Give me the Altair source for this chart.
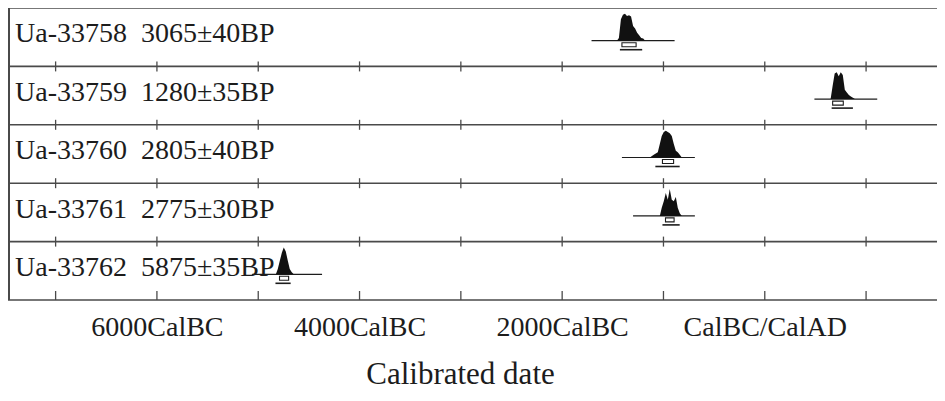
import altair as alt
import pandas as pd

# ---- data ----
labels = ["Ua-33758 \u00a03065±40BP", "Ua-33759 \u00a01280±35BP", "Ua-33760 \u00a02805±40BP",
          "Ua-33761 \u00a02775±30BP", "Ua-33762 \u00a05875±35BP"]

d1_years = [-1460, -1440, -1420, -1400, -1380, -1360, -1340, -1320, -1300, -1280, -1260, -1240, -1220, -1200, -1180]
d1_dens = [0, 0.1, 0.8, 0.97, 1.0, 0.92, 0.95, 0.9, 0.55, 0.45, 0.3, 0.2, 0.1, 0.08, 0]
d2_years = [650, 670, 690, 710, 730, 750, 770, 790, 810, 830, 850, 870, 890]
d2_dens = [0, 0.5, 0.95, 1.0, 0.85, 1.0, 0.9, 0.35, 0.25, 0.15, 0.1, 0.05, 0]
d3_years = [-1135, -1096, -1056, -1036, -1017, -997, -977, -957, -938, -918, -898, -878, -859, -839, -819]
d3_dens = [0, 0.1, 0.2, 0.5, 0.8, 0.95, 1.0, 0.95, 0.9, 0.8, 0.5, 0.25, 0.2, 0.1, 0]
d4_years = [-1036, -1017, -997, -977, -957, -938, -918, -898, -878, -859, -839, -819]
d4_dens = [0, 0.3, 0.55, 0.85, 0.6, 1.0, 0.6, 0.55, 0.7, 0.3, 0.1, 0]
d5_years = [-4826, -4807, -4787, -4767, -4748, -4728, -4708, -4689, -4669, -4649]
d5_dens = [0, 0.2, 0.5, 0.8, 1.0, 0.85, 0.5, 0.2, 0.08, 0]

line_from = [-1710, 490, -1410, -1300, -5060]
line_to = [-890, 1110, -690, -690, -4370]
r68_from = [-1410, 670, -1010, -980, -4790]
r68_to = [-1270, 775, -900, -895, -4700]
r95_from = [-1430, 660, -1080, -1010, -4830]
r95_to = [-1210, 870, -840, -840, -4680]

tick_years = [-7000, -6000, -5000, -4000, -3000, -2000, -1000, 0, 1000]
label_years = [-6000, -4000, -2000, 0]
axis_title = "Calibrated date"

# ---- layout ----
W, H = 929, 292
NROWS = 5
ROW_PX = H / NROWS
BASE = 0.56
HMAX = 0.46
px = 1.0 / ROW_PX
XDOM = [-7470, 1700]
FONT = "Liberation Serif, Times New Roman, serif"
INK = "#1c1c1c"
LINE = "#4a4a4a"

xs = alt.Scale(domain=XDOM, nice=False, zero=False)
ys = alt.Scale(domain=[0, NROWS], reverse=True, nice=False, zero=False)

dens = []
for i, (yy, dd) in enumerate([(d1_years, d1_dens), (d2_years, d2_dens), (d3_years, d3_dens),
                               (d4_years, d4_dens), (d5_years, d5_dens)]):
    for y_, d_ in zip(yy, dd):
        dens.append({"row": i, "year": y_, "top": i + BASE - d_ * HMAX, "base": i + BASE})
dens = pd.DataFrame(dens)

rows = pd.DataFrame({
    "row": list(range(NROWS)), "label": labels,
    "lf": line_from, "lt": line_to,
    "a": r68_from, "b": r68_to, "c": r95_from, "d": r95_to,
})
rows["base"] = rows["row"] + BASE
rows["lab_y"] = rows["row"] + 0.59
rows["b68_top"] = rows["base"] + 2 * px
rows["b68_bot"] = rows["base"] + 6 * px
rows["r95_y"] = rows["base"] + 9 * px

levels = pd.DataFrame({"lvl": list(range(NROWS + 1))})

ticks = []
for lvl in range(1, NROWS):
    for t in tick_years:
        ticks.append({"year": t, "y1": lvl - 5 * px, "y2": lvl + 5 * px})
for t in tick_years:
    ticks.append({"year": t, "y1": NROWS - 9 * px, "y2": NROWS})
ticks = pd.DataFrame(ticks)

x_axis = alt.Axis(
    values=label_years,
    labelExpr="datum.value == 0 ? 'CalBC/CalAD' : (-datum.value) + 'CalBC'",
    ticks=False, domain=False, grid=False,
    labelFont=FONT, labelFontSize=28, labelColor=INK, labelPadding=13,
    title=axis_title, titleFont=FONT, titleFontSize=31, titleFontWeight="normal",
    titleColor=INK, titleX=452, titleY=90, titleBaseline="bottom",
)


def X(field):
    return alt.X(field, scale=xs, axis=x_axis)


tick_layer = alt.Chart(ticks).mark_rule(color=LINE, strokeWidth=1.3).encode(
    x=X("year:Q"),
    y=alt.Y("y1:Q", scale=ys, axis=None),
    y2="y2:Q",
)

hlines = alt.Chart(levels).mark_rule(color=LINE, strokeWidth=1.6).encode(
    y=alt.Y("lvl:Q", scale=ys, axis=None),
    x=alt.value(0), x2=alt.value(W),
)

vline = alt.Chart(levels).mark_rule(color=LINE, strokeWidth=1.6).encode(
    x=alt.value(0.8), y=alt.value(0), y2=alt.value(H),
)

base_lines = alt.Chart(rows).mark_rule(color=INK, strokeWidth=1.2).encode(
    x=X("lf:Q"), x2="lt:Q",
    y=alt.Y("base:Q", scale=ys, axis=None),
)

areas = alt.Chart(dens).mark_area(color="#111111", opacity=1).encode(
    x=X("year:Q"),
    y=alt.Y("top:Q", scale=ys, axis=None), y2="base:Q",
    detail="row:N",
)

r68 = alt.Chart(rows).mark_rect(filled=False, stroke=INK, strokeWidth=1.1).encode(
    x=X("a:Q"), x2="b:Q",
    y=alt.Y("b68_top:Q", scale=ys, axis=None), y2="b68_bot:Q",
)

r95 = alt.Chart(rows).mark_rule(color=INK, strokeWidth=1.6).encode(
    x=X("c:Q"), x2="d:Q",
    y=alt.Y("r95_y:Q", scale=ys, axis=None),
)

texts = alt.Chart(rows).mark_text(align="left", baseline="alphabetic", font=FONT,
                                  fontSize=28, color=INK).encode(
    x=alt.value(7),
    y=alt.Y("lab_y:Q", scale=ys, axis=None),
    text="label:N",
)

chart = alt.layer(tick_layer, hlines, vline, base_lines, areas, r68, r95, texts).properties(
    width=W, height=H,
    autosize=alt.AutoSizeParams(type="none"),
    padding={"left": 0, "top": 0, "right": 0, "bottom": 92},
    background="white",
).configure_view(strokeWidth=0)

chart.save("out.html", embed_options={"renderer": "svg", "actions": False})
